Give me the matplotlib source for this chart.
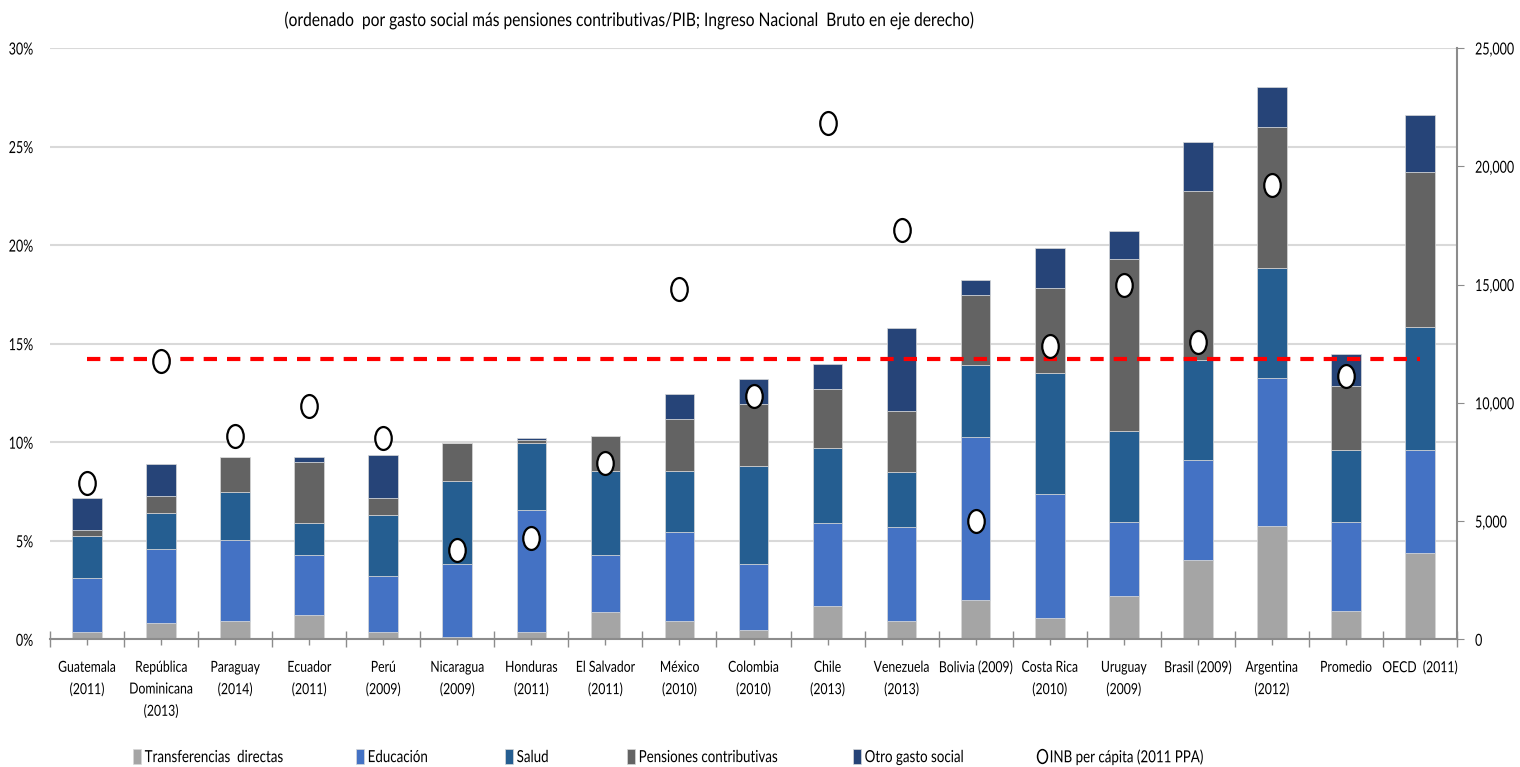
import numpy as np
import matplotlib
matplotlib.use("Agg")
import matplotlib.pyplot as plt
from matplotlib.path import Path
from matplotlib.ticker import FixedLocator
from matplotlib.patheffects import AbstractPathEffect
from matplotlib.transforms import Affine2D

plt.rcParams['font.family'] = ['Lato', 'DejaVu Sans']

# datos
paises = ['Guatemala\n(2011)', 'República\nDominicana\n(2013)', 'Paraguay\n(2014)',
          'Ecuador\n(2011)', 'Perú\n(2009)', 'Nicaragua\n(2009)', 'Honduras\n(2011)',
          'El Salvador\n(2011)', 'México\n(2010)', 'Colombia\n(2010)', 'Chile\n(2013)',
          'Venezuela\n(2013)', 'Bolivia (2009)', 'Costa Rica\n(2010)', 'Uruguay\n(2009)',
          'Brasil (2009)', 'Argentina\n(2012)', 'Promedio', 'OECD  (2011)']

transferencias = [0.39, 0.84, 0.93, 1.25, 0.39, 0.10, 0.39, 1.37, 0.93, 0.49,
                  1.69, 0.93, 1.98, 1.10, 2.19, 4.03, 5.76, 1.45, 4.36]
educacion = [2.72, 3.74, 4.11, 3.01, 2.81, 3.74, 6.17, 2.89, 4.52, 3.35,
             4.21, 4.77, 8.27, 6.28, 3.76, 5.06, 7.52, 4.50, 5.23]
salud = [2.12, 1.85, 2.45, 1.63, 3.09, 4.18, 3.42, 4.30, 3.11, 4.94,
         3.83, 2.78, 3.65, 6.13, 4.61, 5.08, 5.58, 3.64, 6.26]
pensiones = [0.33, 0.86, 1.75, 3.13, 0.88, 1.96, 0.14, 1.74, 2.62, 3.15,
             2.96, 3.11, 3.56, 4.30, 8.74, 8.56, 7.11, 3.26, 7.87]
otro = [1.61, 1.61, 0.0, 0.22, 2.17, 0.0, 0.08, 0.0, 1.27, 1.27,
        1.27, 4.20, 0.76, 2.02, 1.40, 2.48, 2.03, 1.61, 2.89]
inb = [6620, 11770, 8600, 9865, 8525, 3776, 4296, 7455, 14800, 10300,
       21820, 17310, 5020, 12410, 15000, 12570, 19220, 11130, np.nan]
promedio_linea = 14.2

series = [transferencias, educacion, salud, pensiones, otro]
nombres = ['Transferencias  directas', 'Educación', 'Salud',
           'Pensiones contributivas', 'Otro gasto social']
colores = ['#A5A5A5', '#4472C4', '#255E91', '#636363', '#264478']


class Estrecho(AbstractPathEffect):
    """Comprime el texto en horizontal (imita una fuente condensada)."""
    def __init__(self, sx=0.8, ancla='center'):
        super().__init__()
        self.sx = sx
        self.ancla = ancla

    def draw_path(self, renderer, gc, tpath, affine, rgbFace=None):
        ext = tpath.get_extents()
        if self.ancla == 'center':
            cx = (ext.x0 + ext.x1) / 2
        elif self.ancla == 'right':
            cx = ext.x1
        else:
            cx = 0
        t = Affine2D().translate(-cx, 0).scale(self.sx, 1).translate(cx, 0) + affine
        renderer.draw_path(gc, tpath, t, rgbFace)


def estrechar(textos, ancla, sx=0.8):
    for t in textos:
        t.set_path_effects([Estrecho(sx, ancla)])


fig = plt.figure(figsize=(15.2, 7.67), dpi=100)
ax = fig.add_axes([50 / 1520, 1 - 639.3 / 767, 1407 / 1520, (639.3 - 48) / 767])
x = np.arange(len(paises))

base = np.zeros(len(paises))
handles = []
for vals, nom, col in zip(series, nombres, colores):
    b = ax.bar(x, vals, 0.4, bottom=base, color=col, edgecolor='#d8d8d8',
               linewidth=0.5, label=nom, zorder=2)
    handles.append(b)
    base += np.array(vals)

ax.plot([x[0], x[-1]], [promedio_linea, promedio_linea], color='#FF0000', lw=3,
        dashes=(3.2, 2.4), zorder=5)

ax.set_xlim(-0.5, len(paises) - 0.5)
ax.set_ylim(0, 30)
yt = np.arange(0, 31, 5)
ax.set_yticks(yt)
ylab = ax.set_yticklabels([f'{v}%' for v in yt])
estrechar(ylab, 'right', 0.75)
ax.grid(axis='y', color='#D9D9D9', lw=1.5)
ax.set_axisbelow(True)
ax.set_xticks(x)
xlab = ax.set_xticklabels(paises, fontsize=11, linespacing=1.7)
estrechar(xlab, 'center', 0.8)
ax.xaxis.set_minor_locator(FixedLocator(np.arange(-0.5, len(paises), 1)))
ax.tick_params(axis='x', which='major', length=4, color='#8c8c8c', width=1, pad=11.5)
ax.tick_params(axis='x', which='minor', length=12, direction='inout', color='#8c8c8c', width=1)
ax.tick_params(axis='y', length=0, labelsize=12, pad=12)
for s in ['left', 'top', 'right']:
    ax.spines[s].set_visible(False)
ax.spines['bottom'].set_color('#8c8c8c')
ax.spines['bottom'].set_linewidth(1.5)

# eje derecho: INB per cápita
ax2 = ax.twinx()
circ = Path.unit_circle()
elipse = Path(circ.vertices * np.array([0.72, 1.0]), circ.codes)
pts, = ax2.plot(x, inb, linestyle='none', marker=elipse, markersize=16.5,
                markerfacecolor='white', markeredgecolor='black', markeredgewidth=1.6,
                zorder=6, label='INB per cápita (2011 PPA)')
ax2.set_ylim(0, 25000)
yt2 = np.arange(0, 25001, 5000)
ax2.set_yticks(yt2)
ylab2 = ax2.set_yticklabels([f'{v:,}' for v in yt2])
estrechar(ylab2, 'left', 0.75)
ax2.tick_params(axis='y', length=5, color='#8c8c8c', labelsize=12, pad=8)
for s in ['left', 'top', 'bottom']:
    ax2.spines[s].set_visible(False)
ax2.spines['right'].set_color('#8c8c8c')
ax2.spines['right'].set_linewidth(1.5)

titulo = fig.text(630 / 1520, 1 - 20 / 767,
                  '(ordenado  por gasto social más pensiones contributivas/PIB; Ingreso Nacional  Bruto en eje derecho)',
                  ha='center', va='center', fontsize=13.5)
estrechar([titulo], 'center', 0.83)

# leyenda: una entrada por posición, como en el original
pos_leyenda = [133, 356, 505, 627, 853, 1038]
for h, nom, px in zip(handles + [pts], nombres + ['INB per cápita (2011 PPA)'], pos_leyenda):
    leg = fig.legend([h], [nom], loc='center left',
                     bbox_to_anchor=(px / 1520, 1 - 757 / 767),
                     frameon=False, fontsize=12, handlelength=0.5, handleheight=1.0,
                     handletextpad=0.2, markerscale=0.6,
                     borderaxespad=0, borderpad=0)
    estrechar(leg.get_texts(), 'left', 0.8)
    if h is pts:
        leg.legend_handles[0].set_markeredgewidth(1.1)

fig.savefig('out.png', dpi=100)
